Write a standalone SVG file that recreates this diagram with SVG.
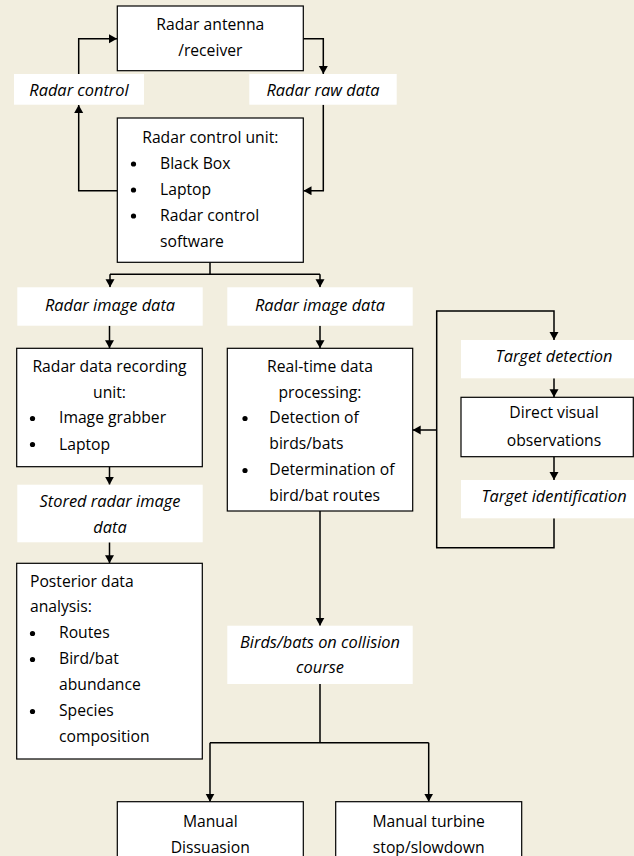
<svg xmlns="http://www.w3.org/2000/svg" width="634" height="856" viewBox="0 0 634 856">
<defs>
<marker id="ah" markerUnits="userSpaceOnUse" markerWidth="10" markerHeight="10" refX="8" refY="4.5" orient="auto">
<path d="M0,0 L8,4.5 L0,9 z" fill="#000"/>
</marker>
<style>
.box{fill:#fff;stroke:#000;stroke-width:1.2}
.lbl{fill:#fff;stroke:none}
text{font-family:"Open Sans","Noto Sans",sans-serif;font-size:15.7px;fill:#000}
.c{text-anchor:middle}
.i{font-style:italic;font-size:16.4px}
.ln{fill:none;stroke:#000;stroke-width:1.5}
.ar{fill:none;stroke:#000;stroke-width:1.5;marker-end:url(#ah)}
</style>
</defs>
<rect width="634" height="856" fill="#F2EEDF"/>

<g id="connectors">
<path class="ar" d="M117.3,190.7 H78.7 V105"/>
<path class="ar" d="M78.7,74 V38.7 H117"/>
<path class="ar" d="M303.3,38.7 H323.3 V74"/>
<path class="ar" d="M323.3,104.7 V190.7 H303.5"/>
<path class="ln" d="M210,262.3 V274.3 M110,274.3 H320"/>
<path class="ar" d="M110,274.3 V287.3"/>
<path class="ar" d="M320,274.3 V287.3"/>
<path class="ar" d="M109.5,325.7 V348.3"/>
<path class="ar" d="M320,325.7 V348.3"/>
<path class="ar" d="M109.5,466.7 V484.7"/>
<path class="ar" d="M109.5,542.3 V563.3"/>
<path class="ar" d="M320,511 V625.7"/>
<path class="ln" d="M320,684 V742.7 M210,742.7 H428.7"/>
<path class="ar" d="M210,742.7 V801.7"/>
<path class="ar" d="M428.7,742.7 V801.7"/>
<path class="ar" d="M554,518.3 V547.7 H436.7 V311 H554 V340"/>
<path class="ar" d="M554,378.3 V397.3"/>
<path class="ar" d="M554,456.7 V480"/>
<path class="ar" d="M436.7,430 H412.7"/>
</g>

<g id="antenna">
<rect class="box" x="117.3" y="6" width="186" height="64.7"/>
<text class="c" x="210.3" y="30">Radar antenna</text>
<text class="c" x="210.3" y="56">/receiver</text>
</g>

<g id="lbl-radar-control">
<rect class="lbl" x="14" y="74" width="130" height="30.7"/>
<text class="c i" x="79" y="96">Radar control</text>
</g>

<g id="lbl-raw-data">
<rect class="lbl" x="249.3" y="74" width="147.4" height="30.7"/>
<text class="c i" x="323" y="96">Radar raw data</text>
</g>

<g id="control-unit">
<rect class="box" x="117.3" y="118" width="186" height="144.3"/>
<text class="c" x="210.3" y="142.5">Radar control unit:</text>
<circle cx="133.5" cy="164" r="2.6"/>
<text x="160" y="168.7">Black Box</text>
<circle cx="133.5" cy="190" r="2.6"/>
<text x="160" y="194.7">Laptop</text>
<circle cx="133.5" cy="216" r="2.6"/>
<text x="160" y="220.7">Radar control</text>
<text x="160" y="246.7">software</text>
</g>

<g id="lbl-image-data-left">
<rect class="lbl" x="17.3" y="287.3" width="185.4" height="38.4"/>
<text class="c i" x="110" y="310.5">Radar image data</text>
</g>

<g id="lbl-image-data-right">
<rect class="lbl" x="227.3" y="287.3" width="185.4" height="38.4"/>
<text class="c i" x="320" y="310.5">Radar image data</text>
</g>

<g id="recording-unit">
<rect class="box" x="16.7" y="348.3" width="185.6" height="118.4"/>
<text class="c" x="109.5" y="371.7">Radar data recording</text>
<text class="c" x="109.5" y="397.5">unit:</text>
<circle cx="32.5" cy="418.5" r="2.6"/>
<text x="59" y="423.3">Image grabber</text>
<circle cx="32.5" cy="444.5" r="2.6"/>
<text x="59" y="449.5">Laptop</text>
</g>

<g id="lbl-stored">
<rect class="lbl" x="17.3" y="484.7" width="185.4" height="57.6"/>
<text class="c i" x="110" y="506.7">Stored radar image</text>
<text class="c i" x="110" y="533">data</text>
</g>

<g id="posterior">
<rect class="box" x="16.7" y="563.3" width="185.6" height="195.7"/>
<text x="30" y="586.7">Posterior data</text>
<text x="30" y="612.3">analysis:</text>
<circle cx="32.5" cy="633.5" r="2.6"/>
<text x="59" y="638.3">Routes</text>
<circle cx="32.5" cy="659.5" r="2.6"/>
<text x="59" y="664.2">Bird/bat</text>
<text x="59" y="690">abundance</text>
<circle cx="32.5" cy="711.5" r="2.6"/>
<text x="59" y="716">Species</text>
<text x="59" y="741.7">composition</text>
</g>

<g id="realtime">
<rect class="box" x="227.3" y="348.3" width="185.4" height="162.7"/>
<text class="c" x="320" y="371.7">Real-time data</text>
<text class="c" x="320" y="397.5">processing:</text>
<circle cx="245" cy="418.5" r="2.6"/>
<text x="269.3" y="423.3">Detection of</text>
<text x="269.3" y="449.3">birds/bats</text>
<circle cx="245" cy="470.5" r="2.6"/>
<text x="269.3" y="475.3">Determination of</text>
<text x="269.3" y="501.3">bird/bat routes</text>
</g>

<g id="lbl-target-detection">
<rect class="lbl" x="461" y="340" width="180" height="38.3"/>
<text class="c i" x="554" y="361.7">Target detection</text>
</g>

<g id="visual">
<rect class="box" x="461" y="397.3" width="172.3" height="59.4"/>
<text class="c" x="554" y="418.3">Direct visual</text>
<text class="c" x="554" y="445.7">observations</text>
</g>

<g id="lbl-target-identification">
<rect class="lbl" x="461" y="480" width="180" height="38.3"/>
<text class="c i" x="554" y="501.7">Target identification</text>
</g>

<g id="lbl-collision">
<rect class="lbl" x="227.3" y="625.7" width="185.4" height="58.3"/>
<text class="c i" x="320" y="648.3">Birds/bats on collision</text>
<text class="c i" x="320" y="673.3">course</text>
</g>

<g id="dissuasion">
<rect class="box" x="117.3" y="801.7" width="186" height="70"/>
<text class="c" x="210.3" y="826.7">Manual</text>
<text class="c" x="210.3" y="852.7">Dissuasion</text>
</g>

<g id="turbine-stop">
<rect class="box" x="335.7" y="801.7" width="186" height="70"/>
<text class="c" x="428.7" y="826.7">Manual turbine</text>
<text class="c" x="428.7" y="852.7">stop/slowdown</text>
</g>
</svg>
